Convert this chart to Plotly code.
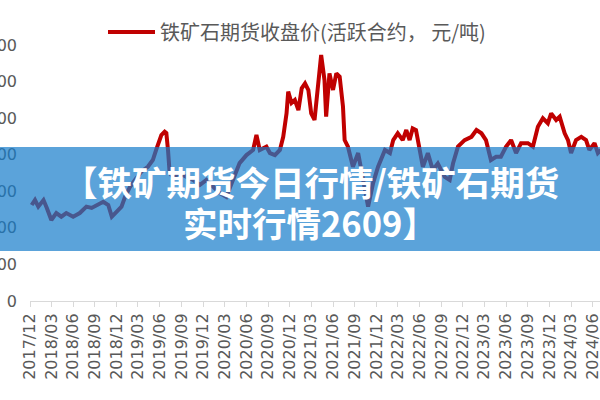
import plotly.graph_objects as go

dates = [
    "2017-12-08", "2017-12-22", "2018-01-05", "2018-01-27", "2018-02-10", "2018-03-01",
    "2018-03-22", "2018-04-12", "2018-05-03", "2018-06-01", "2018-06-29", "2018-07-27",
    "2018-08-18", "2018-09-08", "2018-10-06", "2018-10-27", "2018-11-11", "2018-12-01",
    "2018-12-22", "2019-01-06", "2019-01-27", "2019-02-17", "2019-03-15", "2019-04-12",
    "2019-05-03", "2019-05-17", "2019-06-01", "2019-06-08", "2019-06-22", "2019-06-29",
    "2019-07-06", "2019-07-13", "2019-07-27", "2019-08-24", "2019-09-22", "2019-10-20",
    "2019-11-17", "2019-12-15", "2020-01-13", "2020-02-10", "2020-03-08", "2020-04-05",
    "2020-05-03", "2020-06-01", "2020-06-29", "2020-07-13", "2020-07-27", "2020-08-24",
    "2020-09-08", "2020-09-29", "2020-10-20", "2020-11-03", "2020-11-17", "2020-11-24",
    "2020-12-08", "2020-12-22", "2021-01-06", "2021-01-20", "2021-02-03", "2021-02-17",
    "2021-03-01", "2021-03-15", "2021-03-29", "2021-04-12", "2021-04-26", "2021-05-03",
    "2021-05-17", "2021-06-01", "2021-06-15", "2021-06-29", "2021-07-13", "2021-07-20",
    "2021-08-03", "2021-08-24", "2021-09-15", "2021-10-06", "2021-10-27", "2021-11-17",
    "2021-12-08", "2022-01-06", "2022-01-27", "2022-02-10", "2022-03-01", "2022-03-22",
    "2022-04-06", "2022-04-20", "2022-05-03", "2022-05-17", "2022-06-01", "2022-06-15",
    "2022-07-06", "2022-07-27", "2022-08-17", "2022-09-15", "2022-10-06", "2022-10-20",
    "2022-11-10", "2022-12-08", "2023-01-06", "2023-01-27", "2023-02-17", "2023-03-08",
    "2023-03-29", "2023-04-20", "2023-05-10", "2023-06-01", "2023-06-22", "2023-07-13",
    "2023-08-03", "2023-09-01", "2023-09-22", "2023-10-13", "2023-11-03", "2023-11-24",
    "2023-12-08", "2023-12-29", "2024-01-13", "2024-02-03", "2024-02-17", "2024-03-01",
    "2024-03-22", "2024-04-13", "2024-05-03", "2024-05-17", "2024-06-08", "2024-06-22",
    "2024-07-06",
]
prices = [
    525, 552, 516, 552, 509, 443,
    481, 461, 481, 461, 481, 516,
    509, 525, 543, 525, 461, 488,
    516, 570, 625, 662, 707, 734,
    771, 826, 880, 908, 926, 919,
    826, 700, 678, 700, 678, 662,
    634, 662, 625, 590, 570, 662,
    754, 798, 826, 908, 826, 844,
    809, 798, 826, 898, 1026, 1145,
    1083, 1099, 1044, 1163, 1190, 1154,
    1026, 990, 1154, 1345, 1209, 1008,
    1245, 1154, 1245, 1227, 1063, 880,
    844, 734, 809, 662, 516, 645,
    734, 826, 809, 880, 917, 880,
    935, 880, 944, 935, 826, 734,
    809, 716, 752, 679, 662, 752,
    844, 880, 898, 935, 917, 880,
    771, 789, 789, 844, 880, 809,
    863, 863, 844, 953, 999, 972,
    1026, 990, 1008, 917, 880, 809,
    880, 898, 880, 826, 863, 809,
    826,
]
series_name = "铁矿石期货收盘价(活跃合约， 元/吨)"
y_ticks = [0, 200, 400, 600, 800, 1000, 1200, 1400]
banner_line1 = "【铁矿期货今日行情/铁矿石期货"
banner_line2 = "实时行情2609】"

W, H = 600, 400
L, R, T, B = 30, 0, 45, 99
pw, ph = W - L - R, H - T - B

def px_x(x):
    return (x - L) / pw

def px_y(y):
    return (H - B - y) / ph

fig = go.Figure()
fig.add_trace(go.Scatter(
    x=dates, y=prices, mode="lines", name=series_name,
    line=dict(color="#C00000", width=4),
))

fig.update_layout(
    width=W, height=H,
    margin=dict(l=L, r=R, t=T, b=B, autoexpand=False),
    paper_bgcolor="white", plot_bgcolor="white",
    showlegend=True,
    legend=dict(
        orientation="h", x=px_x(103), y=px_y(32), xanchor="left", yanchor="middle",
        font=dict(family="Noto Sans CJK SC", size=20, color="#595959"),
        itemwidth=47, bgcolor="rgba(0,0,0,0)",
    ),
    xaxis=dict(
        type="date", range=["2017-12-01", "2024-07-01"],
        tick0="2017-12-01", dtick="M3", tickformat="%Y/%m", tickangle=-90,
        showgrid=False, zeroline=False, showline=True, linecolor="#D9D9D9", linewidth=1,
        ticks="outside", ticklen=5, tickcolor="#D9D9D9",
        tickfont=dict(family="DejaVu Sans", size=16, color="#595959"),
        ticklabeloverflow="allow",
        automargin=False,
    ),
    yaxis=dict(
        range=[0, 1400], tickvals=y_ticks, showgrid=False, zeroline=False, showline=False,
        ticks="", ticklabelstandoff=12,
        tickfont=dict(family="DejaVu Sans", size=16, color="#595959"),
        ticklabeloverflow="allow",
        automargin=False,
    ),
)

fig.add_shape(
    type="rect", xref="paper", yref="paper",
    x0=px_x(0), x1=px_x(W), y0=px_y(251), y1=px_y(147),
    fillcolor="rgba(21,124,202,0.7)", line=dict(width=0), layer="above",
)
fig.add_annotation(
    text=banner_line1, xref="paper", yref="paper", x=px_x(311), y=px_y(181),
    showarrow=False, xanchor="center", yanchor="middle",
    font=dict(family="Noto Sans CJK SC", size=34.5, color="white", weight="bold"),
)
fig.add_annotation(
    text=banner_line2, xref="paper", yref="paper", x=px_x(310), y=px_y(222),
    showarrow=False, xanchor="center", yanchor="middle",
    font=dict(family="Noto Sans CJK SC", size=34.5, color="white", weight="bold"),
)

fig.write_html(
    "out.html",
    config={"displayModeBar": False},
    post_script="document.body.style.margin='0';document.body.style.padding='0';",
)
